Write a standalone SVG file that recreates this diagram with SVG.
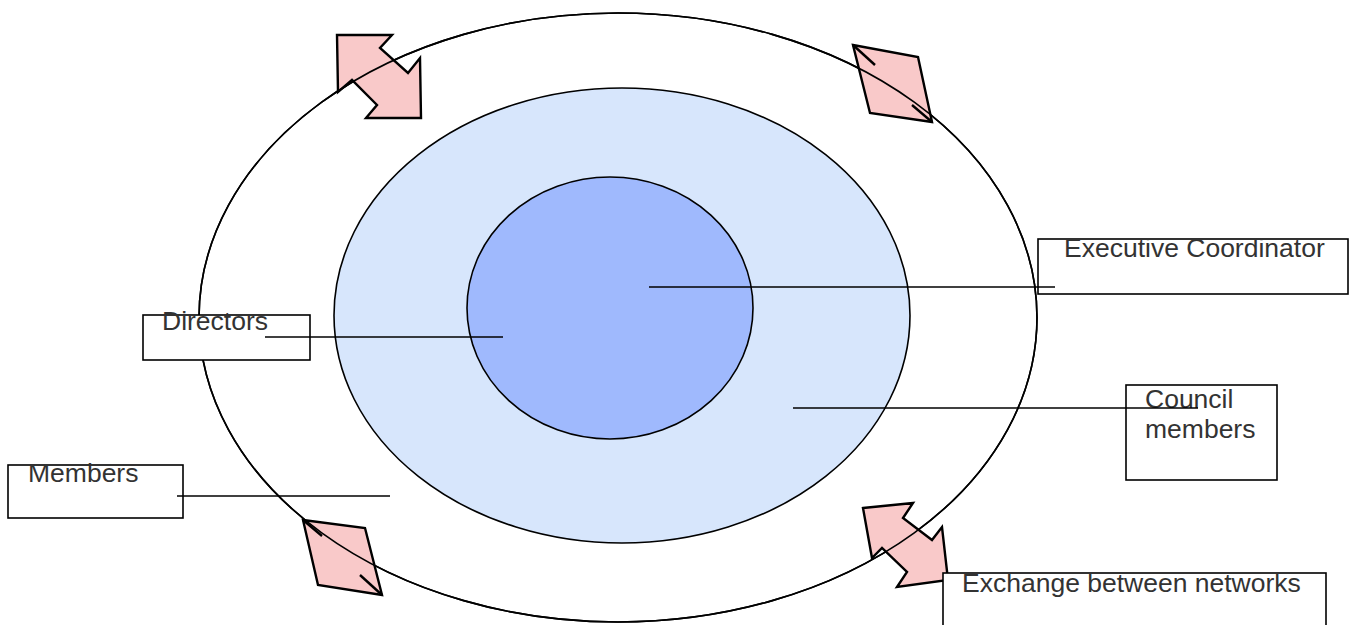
<svg xmlns="http://www.w3.org/2000/svg" width="1351" height="625" viewBox="0 0 1351 625">
<style>
.ell{stroke:#000;stroke-width:1.6}
.box{fill:#fff;stroke:#000;stroke-width:1.6}
.lbl{font-family:"Liberation Sans",Arial,sans-serif;font-size:26.5px;fill:#333}
.arr{fill:#f9c9c9;stroke:#000;stroke-width:2.4;stroke-linejoin:miter}
.tick{stroke:#000;stroke-width:2.4}
.con{stroke:#000;stroke-width:1.6;fill:none}
</style>
<rect width="1351" height="625" fill="#fff"/>
<g id="outer"><ellipse class="ell" cx="618" cy="317.5" rx="419" ry="304.5" fill="#fff"/></g>
<g id="middle"><ellipse class="ell" cx="622" cy="315.5" rx="288" ry="227.5" fill="#d7e6fc"/></g>
<g id="inner"><ellipse class="ell" cx="610" cy="308" rx="143" ry="131" fill="#9fb9fd"/></g>
<g id="arrow-tl"><polygon class="arr" points="337,35 392,35 380,48 408,73 420,58 421,118 366,118 377,105 352,80 338,92"/></g>
<g id="arrow-tr"><polygon class="arr" points="853,45 918,57 932,122 870,113"/><line class="tick" x1="853" y1="45" x2="875" y2="65"/><line class="tick" x1="912" y1="105" x2="932" y2="122"/></g>
<g id="arrow-bl"><polygon class="arr" points="303,520 365,528 382,595 318,585"/><line class="tick" x1="303" y1="520" x2="322" y2="536"/><line class="tick" x1="360" y1="575" x2="382" y2="595"/></g>
<g id="arrow-br"><polygon class="arr" points="863,508 913,503 903,518 932,540 942,527 948,580 897,587 907,572 882,548 872,558"/></g>
<g id="outer-line"><path class="con" d="M199,317.5 A419,304.5 0 0 1 1037,317.5 A419,304.5 0 0 1 199,317.5"/></g>
<g id="directors"><rect class="box" x="143" y="315" width="167" height="45"/><text class="lbl" x="162" y="330">Directors</text></g>
<g id="members"><rect class="box" x="8" y="465" width="175" height="53"/><text class="lbl" x="28" y="482">Members</text></g>
<g id="executive"><rect class="box" x="1038" y="239" width="310" height="55"/><text class="lbl" x="1064" y="257">Executive Coordinator</text></g>
<g id="council"><rect class="box" x="1126" y="385" width="151" height="95"/><text class="lbl" x="1145" y="408">Council</text><text class="lbl" x="1145" y="438">members</text></g>
<g id="exchange"><rect class="box" x="943" y="573" width="383" height="60"/><text class="lbl" x="962" y="592">Exchange between networks</text></g>
<g id="connectors">
<line class="con" x1="649" y1="287" x2="1055" y2="287"/>
<line class="con" x1="265" y1="337" x2="503" y2="337"/>
<line class="con" x1="793" y1="408" x2="1198" y2="408"/>
<line class="con" x1="177" y1="496" x2="390" y2="496"/>
</g>
</svg>
